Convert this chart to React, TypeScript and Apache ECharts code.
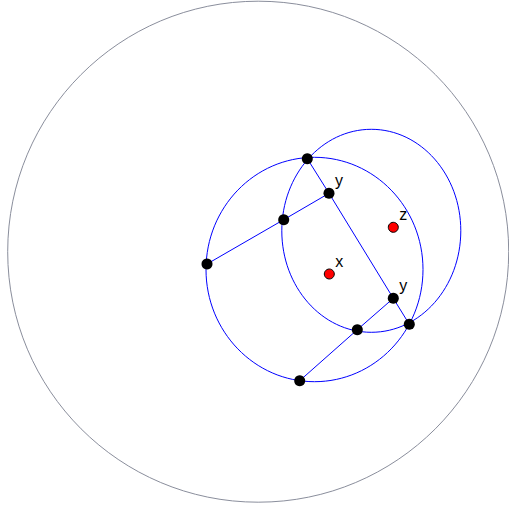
import React, { useEffect, useRef } from "react";
import * as echarts from "echarts";

// Coordinates (pixel-like frame, y downward)
const boundaryCircle = [[258.2, 251.7, 250.5, 250.5]];
const hyperCircles = [
  [314.5, 269.5, 108.5, 112.2],
  [371.3, 230.8, 89.5, 101.5],
];
const lineA = [[307.3, 158.7], [329, 193.3], [393.3, 298.3], [409.3, 324.3]];
const lineB = [[207, 264], [283.7, 219.7], [329, 193.3]];
const lineC = [[299.7, 380.7], [357.3, 329.7], [393.3, 298.3]];
const blackPoints = [
  [307.3, 158.7],
  [329, 193.3],
  [283.7, 219.7],
  [207, 264],
  [393.3, 298.3],
  [409.3, 324.3],
  [357.3, 329.7],
  [299.7, 380.7],
];
const redPoints = [
  [329.3, 274],
  [393.3, 227.3],
];
const labelNames = ["y", "z", "x", "y"];
const labelPoints = [
  [329, 193.3],
  [393.3, 227.3],
  [329.3, 274],
  [393.3, 298.3],
];

function ellipseSeries(data: number[][], color: string, z: number) {
  return {
    type: "custom",
    coordinateSystem: "cartesian2d",
    clip: false,
    z,
    encode: { x: 0, y: 1 },
    data,
    silent: true,
    renderItem: (params: any, api: any) => {
      const c = api.coord([api.value(0), api.value(1)]);
      const s = api.size([api.value(2), api.value(3)]);
      return {
        type: "ellipse",
        shape: { cx: c[0], cy: c[1], rx: Math.abs(s[0]), ry: Math.abs(s[1]) },
        style: { fill: "none", stroke: color, lineWidth: 1 },
      };
    },
  };
}

function lineSeries(data: number[][]) {
  return {
    type: "line",
    data,
    symbol: "none",
    z: 3,
    silent: true,
    lineStyle: { color: "#0000ff", width: 1 },
  };
}

export default function App() {
  const ref = useRef<HTMLDivElement>(null);
  useEffect(() => {
    if (!ref.current) return;
    const chart = echarts.init(ref.current, null, { renderer: "svg" });
    chart.setOption({
      animation: false,
      grid: { left: 0, right: 0, top: 0, bottom: 0 },
      xAxis: { type: "value", min: 0, max: 509, show: false },
      yAxis: { type: "value", min: 0, max: 510, inverse: true, show: false },
      series: [
        ellipseSeries(boundaryCircle, "#8a8e9c", 1),
        ellipseSeries(hyperCircles, "#0000ff", 2),
        lineSeries(lineA),
        lineSeries(lineB),
        lineSeries(lineC),
        {
          type: "scatter",
          data: blackPoints,
          symbol: "circle",
          symbolSize: 11,
          z: 5,
          silent: true,
          itemStyle: { color: "#000000", opacity: 1 },
        },
        {
          type: "scatter",
          data: redPoints,
          symbol: "circle",
          symbolSize: 10,
          z: 5,
          silent: true,
          itemStyle: { color: "#ff0000", borderColor: "#000000", borderWidth: 1, opacity: 1 },
        },
        {
          type: "custom",
          coordinateSystem: "cartesian2d",
          clip: false,
          z: 6,
          encode: { x: 0, y: 1 },
          data: labelPoints,
          silent: true,
          renderItem: (params: any, api: any) => {
            const c = api.coord([api.value(0), api.value(1)]);
            return {
              type: "text",
              x: c[0] + 6,
              y: c[1] - 13,
              style: {
                text: labelNames[params.dataIndex],
                fill: "#000000",
                font: "16px 'Liberation Sans', Arial, sans-serif",
                align: "left",
                verticalAlign: "middle",
              },
            };
          },
        },
      ],
    });
    return () => chart.dispose();
  }, []);
  return (
    <div
      ref={ref}
      style={{ position: "absolute", left: 0, top: 0, width: 509, height: 510 }}
    />
  );
}
